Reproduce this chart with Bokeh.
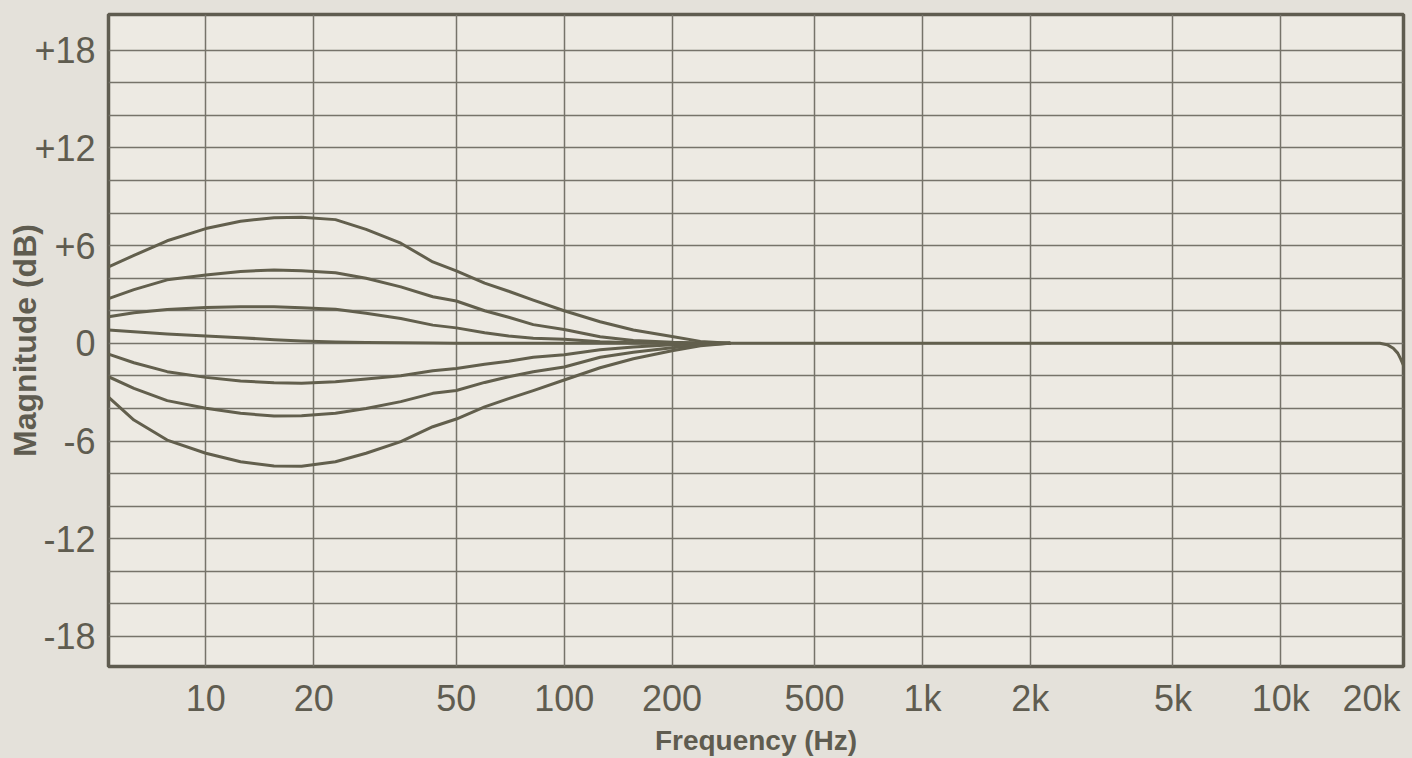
from bokeh.plotting import figure
from bokeh.models import FixedTicker, CustomJSTickFormatter, Range1d
from bokeh.embed import file_html
from bokeh.resources import INLINE

# ---- data ----
freq = [5.35, 6.3, 7.8, 10, 12.5, 15.5, 18.5, 23, 28, 35, 43, 50, 60, 70, 82, 100, 126, 156, 200, 240, 290]

boost_7 = [4.7, 5.4, 6.3, 7.05, 7.5, 7.72, 7.75, 7.6, 7.0, 6.15, 5.0, 4.45, 3.7, 3.2, 2.65, 2.0, 1.33, 0.82, 0.42, 0.12, 0.0]
boost_4 = [2.75, 3.3, 3.9, 4.2, 4.42, 4.5, 4.46, 4.34, 4.0, 3.47, 2.86, 2.6, 2.0, 1.6, 1.15, 0.85, 0.4, 0.18, 0.06, 0.02, 0.0]
boost_2 = [1.63, 1.88, 2.08, 2.2, 2.25, 2.25, 2.18, 2.1, 1.85, 1.53, 1.12, 0.95, 0.65, 0.45, 0.32, 0.25, 0.1, 0.04, 0.02, 0.0, 0.0]
flat_0 = [0.82, 0.71, 0.57, 0.45, 0.35, 0.22, 0.14, 0.08, 0.05, 0.03, 0.02, 0.01, 0.0, 0.0, 0.0, 0.0, 0.0, 0.0, 0.0, 0.0, 0.0]
cut_2 = [-0.66, -1.19, -1.74, -2.09, -2.31, -2.42, -2.45, -2.36, -2.19, -1.99, -1.68, -1.55, -1.28, -1.1, -0.85, -0.7, -0.4, -0.22, -0.08, -0.02, 0.0]
cut_4 = [-2.05, -2.76, -3.52, -3.99, -4.3, -4.46, -4.44, -4.3, -4.0, -3.58, -3.07, -2.9, -2.4, -2.05, -1.75, -1.45, -0.85, -0.55, -0.27, -0.08, 0.0]
cut_7 = [-3.3, -4.71, -5.94, -6.75, -7.27, -7.53, -7.55, -7.27, -6.75, -6.04, -5.12, -4.65, -3.9, -3.4, -2.9, -2.25, -1.5, -0.95, -0.45, -0.15, 0.0]

curves = [boost_7, boost_4, boost_2, flat_0, cut_2, cut_4, cut_7]

# common response above the shelf region, with the top-end roll-off
common_freq = [290, 1000, 5000, 18900, 19800, 20600, 21200, 21600, 22000]
common_db = [0.0, 0.0, 0.0, 0.0, -0.08, -0.3, -0.6, -0.95, -1.35]

x_tick_values = [10, 20, 50, 100, 200, 500, 1000, 2000, 5000, 10000, 20000]
x_tick_labels = ["10", "20", "50", "100", "200", "500", "1k", "2k", "5k", "10k", "20k\u00a0"]
x_grid_values = [10, 20, 50, 100, 200, 500, 1000, 2000, 5000, 10000]
y_tick_values = [-18, -12, -6, 0, 6, 12, 18]
y_tick_labels = ["-18", "-12", "-6", "0", "+6", "+12", "+18"]
y_grid_values = [-18, -16, -14, -12, -10, -8, -6, -4, -2, 0, 2, 4, 6, 8, 10, 12, 14, 16, 18]

# ---- style ----
INK = "#5f5c50"
CURVE = "#625f4d"
GRID = "#76736a"
PAPER_IN = "#edeae3"
PAPER_OUT = "#e4e1da"
FONT = "Liberation Sans"

p = figure(width=1410, height=758, x_axis_type="log",
           x_range=Range1d(5.35, 22000), y_range=Range1d(-19.85, 20.2),
           output_backend="svg", toolbar_location=None, title=None,
           min_border_left=108, min_border_right=7, min_border_top=14, min_border_bottom=91)

p.background_fill_color = PAPER_IN
p.border_fill_color = PAPER_OUT
p.outline_line_color = INK
p.outline_line_width = 3.5

for c in curves:
    p.line(freq, c, line_color=CURVE, line_width=3, line_cap="round", line_join="round")
p.line(common_freq, common_db, line_color=CURVE, line_width=3, line_cap="round", line_join="round")

p.xaxis.ticker = FixedTicker(ticks=x_tick_values, minor_ticks=[])
p.xaxis.formatter = CustomJSTickFormatter(args=dict(vals=x_tick_values, labs=x_tick_labels), code="""
for (let i = 0; i < vals.length; i++) { if (Math.abs(vals[i] - tick) < 1e-6 * vals[i]) return labs[i]; }
return '';
""")
p.yaxis.ticker = FixedTicker(ticks=y_tick_values, minor_ticks=[])
p.yaxis.formatter = CustomJSTickFormatter(args=dict(vals=y_tick_values, labs=y_tick_labels), code="""
for (let i = 0; i < vals.length; i++) { if (Math.abs(vals[i] - tick) < 1e-6) return labs[i]; }
return '';
""")

for ax in (p.xaxis[0], p.yaxis[0]):
    ax.axis_line_color = None
    ax.major_tick_line_color = None
    ax.minor_tick_line_color = None
    ax.major_tick_out = 0
    ax.major_tick_in = 0
    ax.minor_tick_out = 0
    ax.minor_tick_in = 0
    ax.major_label_text_font = FONT
    ax.major_label_text_font_size = "36px"
    ax.major_label_text_color = INK
    ax.axis_label_text_font = FONT
    ax.axis_label_text_font_style = "bold"
    ax.axis_label_text_color = INK

p.xaxis.axis_label = "Frequency (Hz)"
p.yaxis.axis_label = "Magnitude (dB)"
p.xaxis.axis_label_text_font_size = "28px"
p.yaxis.axis_label_text_font_size = "32px"
p.xaxis.major_label_standoff = 11
p.xaxis.axis_label_standoff = 3
p.yaxis.major_label_standoff = 13
p.yaxis.axis_label_standoff = -12

p.xgrid.ticker = FixedTicker(ticks=x_grid_values, minor_ticks=[])
p.ygrid.ticker = FixedTicker(ticks=y_grid_values, minor_ticks=[])
for g in (p.xgrid[0], p.ygrid[0]):
    g.grid_line_color = GRID
    g.grid_line_width = 1.5
    g.grid_line_alpha = 1.0

html = file_html(p, INLINE).replace("<body>", '<body style="background-color:%s">' % PAPER_OUT)
open("out.html", "w").write(html)
